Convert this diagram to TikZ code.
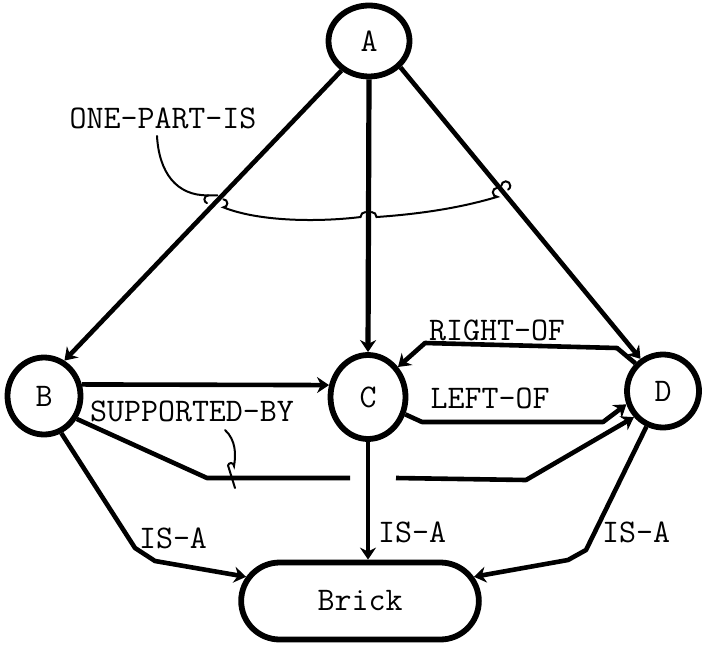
\documentclass[tikz,border=0pt]{standalone}
\usepackage{tikz}
\usetikzlibrary{arrows.meta,calc,shapes.geometric,shapes.misc}

\begin{document}
\begin{tikzpicture}[x=0.5pt,y=0.5pt,yscale=-1,xscale=1,
	every node/.style={font=\fontsize{16.5}{19}\selectfont\ttfamily},
	concept/.style={draw,ellipse,line width=2.9pt,inner sep=0pt},
	rel/.style={line width=2.3pt,line join=round,-{Stealth[length=6pt,width=8pt]}},
	clasp/.style={line width=1pt,line cap=round},
	txt/.style={inner sep=0pt}]
\useasboundingbox (0,0) rectangle (704,646);

%Shape: Ellipse
	\node [concept,minimum width=40.5pt,minimum height=35.5pt] (A) at (369,41) {A};
%Shape: Ellipse
	\node [concept,minimum width=36.5pt,minimum height=38.5pt] (B) at (44,396) {B};
%Shape: Ellipse
	\node [concept,minimum width=37.5pt,minimum height=42pt] (C) at (368,397) {C};
%Shape: Ellipse
	\node [concept,minimum width=36pt,minimum height=36.5pt] (D) at (663,391) {D};
%Rounded Rect
	\node [draw,rounded rectangle,line width=2.9pt,minimum width=125.5pt,minimum height=38.5pt] (brick) at (360,601) {Brick};

%Straight Lines
	\draw [rel] (A.-133) -- (B.60) coordinate [pos=0.437] (hAB);
	\draw [rel,line width=2.6pt] (A.south) -- (C.north) coordinate [pos=0.49] (hAC);
	\draw [rel] (A.-40) -- (D.125) coordinate [pos=0.42] (hAD);
	\draw [rel] (B.17) -- (C.163);
%Straight Lines
	\draw [rel] (D.135) -- (617,348) -- (425,343) -- (C.45);
	\draw [rel] (C.-25) -- (422,422) -- (603,422) -- (D.200);
%Straight Lines
	\coordinate (gapL) at (350,478);
	\coordinate (gapR) at (396,478);
	\draw [rel,-] (B.-35) -- (207,478) -- (gapL);
	\draw [rel] (gapR) -- (526,480) -- (D.222);
%Straight Lines
	\draw [rel] (B.-65) -- (135,548) -- (155,561) -- (brick.168);
	\draw [rel,line width=1.6pt] (C.south) -- (C.south |- brick.north);
	\draw [rel] (D.-115) -- (586,550) -- (568,560) -- (brick.12);

% Text Node
	\node [txt] (onepart) at (163,118) {ONE-PART-IS};
% Text Node
	\node [txt] (supported) at (192,411) {SUPPORTED-BY};
% Text Node
	\node [txt] (rightof) at (497,330) {RIGHT-OF};
% Text Node
	\node [txt] (leftof) at (490,398) {LEFT-OF};
% Text Node
	\node [txt] (isaB) at (173,538) {IS-A};
% Text Node
	\node [txt] (isaC) at (412,532) {IS-A};
% Text Node
	\node [txt] (isaD) at (636,532) {IS-A};

%Curve Lines
	\coordinate (tagA) at (157,136);
	\draw [clasp] (tagA) .. controls (159,172) and (176,196) .. ($(hAB)+(-12,-2)$) -- ($(hAB)+(-3,-2)$);
	\draw [clasp] ($(hAB)+(-12,-2)$) arc [start angle=270,end angle=110,radius=4];
	\draw [clasp] ($(hAB)+(3,2)$) arc [start angle=-90,end angle=90,radius=4]
		.. controls (260,222) and (320,222) .. ($(hAC)+(-8,4)$) arc [start angle=180,end angle=270,radius=5];
	\draw [clasp] ($(hAC)+(3,-1)$) arc [start angle=270,end angle=360,radius=5]
		.. controls (420,214) and (460,208) .. ($(hAD)+(-4,7)$) arc [start angle=90,end angle=270,radius=4.5];
	\draw [clasp] ($(hAD)+(0,-4)$) arc [start angle=180,end angle=420,radius=4.5];
%Curve Lines
	\coordinate (tagS) at (225,430);
	\draw [clasp] (tagS) .. controls (236,440) and (236,455) .. (234,466) arc [start angle=0,end angle=-170,radius=3] -- (235,488);

\end{tikzpicture}
\end{document}
